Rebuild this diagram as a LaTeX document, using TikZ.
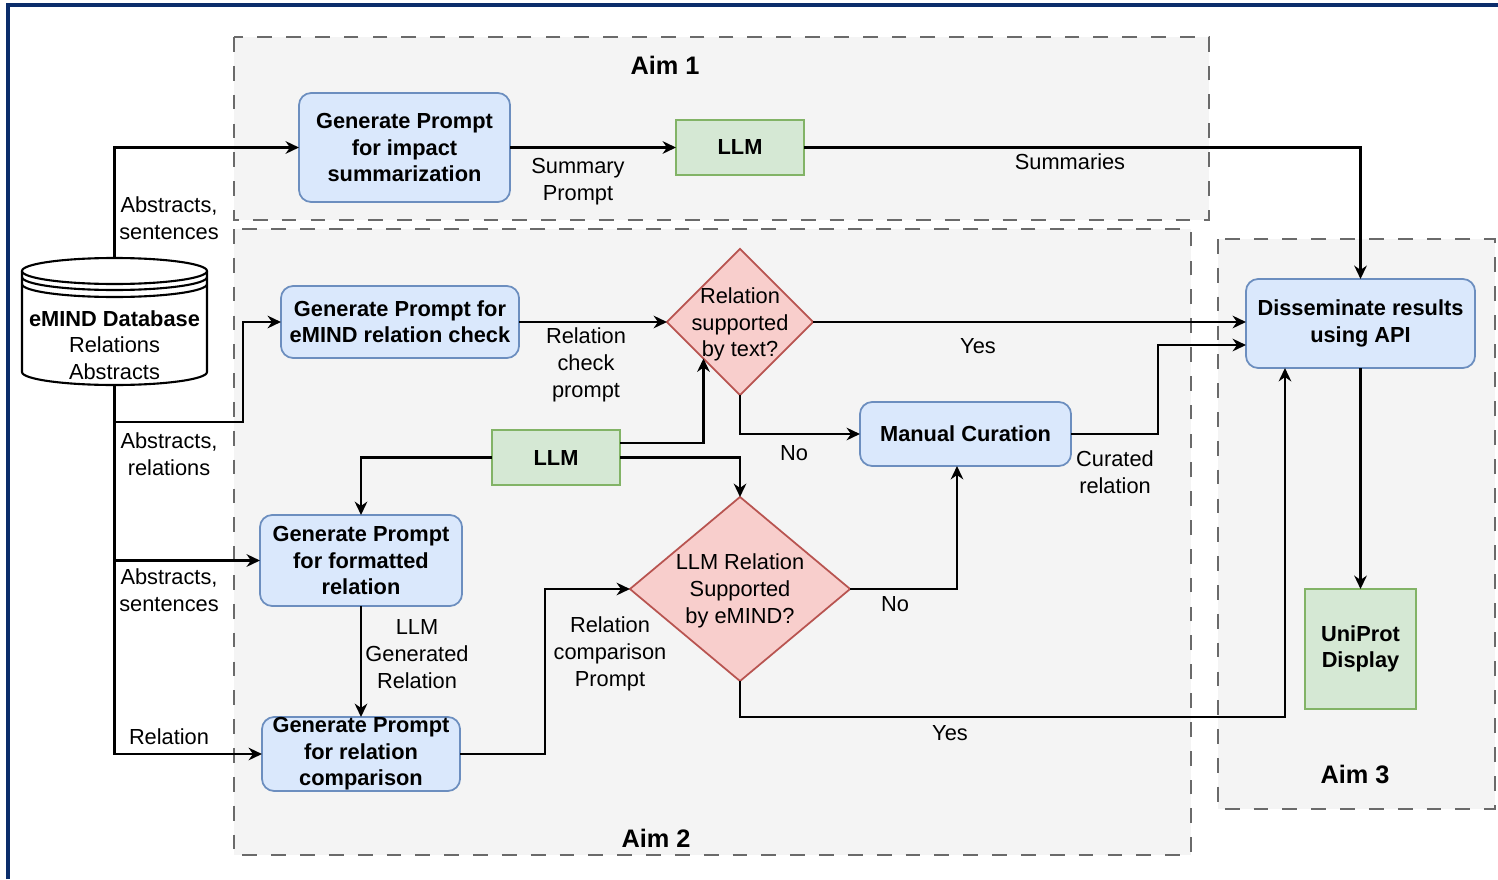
\documentclass[tikz,border=0pt]{standalone}
\usepackage{fontspec}
\setmainfont{Liberation Sans}
\usepackage{tikz}
\usetikzlibrary{positioning}
\usetikzlibrary{shapes.geometric}
\usetikzlibrary{arrows.meta}

\definecolor{promptfill}{HTML}{DAE8FC}
\definecolor{promptline}{HTML}{6C8EBF}
\definecolor{llmfill}{HTML}{D5E8D4}
\definecolor{llmline}{HTML}{82B366}
\definecolor{checkfill}{HTML}{F8CECC}
\definecolor{checkline}{HTML}{B85450}
\definecolor{aimfill}{HTML}{F4F4F4}
\definecolor{aimline}{HTML}{6A6A6A}
\definecolor{framecol}{HTML}{0B2D6B}

\begin{document}
\begin{tikzpicture}[x=0.01cm,y=-0.01cm,
	every node/.style={font=\fontsize{6.2}{7.6}\selectfont, inner sep=0pt, outer sep=0pt},
	prompt/.style={draw=promptline, fill=promptfill, rounded corners=3.5pt, line width=0.5pt, align=center, font=\fontsize{6.2}{7.5}\selectfont\bfseries},
	model/.style={draw=llmline, fill=llmfill, line width=0.5pt, align=center, font=\fontsize{6.2}{7.5}\selectfont\bfseries},
	check/.style={diamond, draw=checkline, fill=checkfill, line width=0.5pt},
	aimbox/.style={draw=aimline, fill=aimfill, line width=0.5pt, dash pattern=on 4.2pt off 4pt},
	aimtitle/.style={font=\fontsize{7.2}{8.6}\selectfont\bfseries},
	arr/.style={-{Stealth[length=3.8pt,width=3.6pt]}, line width=0.6pt},
	lbl/.style={align=center}]

	\useasboundingbox (0,0) rectangle (1498,879);
	% Frame %
	\draw [framecol, line width=1.1pt] (8,879) -- (8,5) -- (1498,5);
	% Aims %
	\draw [aimbox] (234,37) rectangle (1209,220);
	\draw [aimbox] (234,229) rectangle (1191,855);
	\draw [aimbox] (1218,239) rectangle (1495,809);
	\node [aimtitle] (aim1) at (665,65) {Aim 1};
	\node [aimtitle] (aim2) at (656,838) {Aim 2};
	\node [aimtitle] (aim3) at (1355,774) {Aim 3};
	% Database %
	\draw [fill=white, line width=0.6pt] (22,271) -- (22,372) arc (180:0:92.5 and 13) -- (207,271);
	\draw [fill=white, line width=0.6pt] (114.5,271) ellipse (92.5 and 13);
	\draw [line width=0.6pt] (22,277) arc (180:0:92.5 and 13);
	\draw [line width=0.6pt] (22,284) arc (180:0:92.5 and 13);
	\node [lbl] (db) at (114.5,345) {\textbf{eMIND Database}\\Relations\\Abstracts};
	\coordinate (dbtop) at (114.5,258);
	\coordinate (dbbot) at (114.5,385);
	% Aim 1 %
	\node [prompt, minimum width=2.11cm, minimum height=1.09cm] (gen1) at (404.5,147.5) {Generate Prompt\\for impact\\summarization};
	\node [model, minimum width=1.28cm, minimum height=0.55cm] (llm1) at (740,147.5) {LLM};
	% Aim 2 %
	\node [prompt, minimum width=2.38cm, minimum height=0.72cm] (gen2) at (400,322) {Generate Prompt for\\eMIND relation check};
	\node [check, minimum width=1.46cm, minimum height=1.46cm, label={[lbl, yshift=-0.025cm]center:Relation\\supported\\by text?}] (dia1) at (740,322) {};
	\node [prompt, minimum width=2.11cm, minimum height=0.64cm] (manual) at (965.5,434) {Manual Curation};
	\node [model, minimum width=1.28cm, minimum height=0.55cm] (llm2) at (556,457.5) {LLM};
	\node [prompt, minimum width=2.02cm, minimum height=0.91cm] (genF) at (361,560.5) {Generate Prompt\\for formatted\\relation};
	\node [prompt, minimum width=1.98cm, minimum height=0.74cm] (genC) at (361,754) {Generate Prompt\\for relation\\comparison};
	\node [check, minimum width=2.2cm, minimum height=1.84cm, label={[lbl, yshift=-0.02cm]center:LLM Relation\\Supported\\by eMIND?}] (dia2) at (740,589) {};
	% Aim 3 %
	\node [prompt, minimum width=2.29cm, minimum height=0.89cm] (dissem) at (1360.5,323.5) {Disseminate results\\using API};
	\node [model, minimum width=1.11cm, minimum height=1.2cm] (uniprot) at (1360.5,649) {UniProt\\Display};
	% Connectors %
	\draw [arr] (dbtop) |- (gen1.west);
	\draw [arr] (dbbot) -- (114.5,422) -- (243,422) |- (gen2.west);
	\draw [arr] (dbbot) |- (genF.west);
	\draw [arr] (dbbot) |- (genC.west);
	\draw [arr] (gen1) -- (llm1);
	\draw [arr] (llm1.east) -| (dissem.north);
	\draw [arr] (gen2.east) -- (dia1.west);
	\draw [arr] (dia1.east) -- (dia1.east -| dissem.west);
	\draw [arr] (dia1.south) |- (manual.west);
	\draw [arr] (manual.east) -- ++(87,0) |- ([yshift=-0.215cm]dissem.west);
	\draw [arr] ([yshift=0.145cm]llm2.east) -| (dia1.south west);
	\draw [arr] (llm2.east) -| (dia2.north);
	\draw [arr] (llm2.west) -| (genF.north);
	\draw [arr] (genF.south) -- (genC.north);
	\draw [arr] (genC.east) -- ++(85,0) |- (dia2.west);
	\draw [arr] (dia2.east) -| ([xshift=-0.085cm]manual.south);
	\draw [arr] (dia2.south) -- ++(0,36) -| ([xshift=-0.755cm]dissem.south);
	\draw [arr] (dissem.south) -- (uniprot.north);
	% Labels %
	\node [lbl] (lab1) at (169,218) {Abstracts,\\sentences};
	\node [lbl] (lab2) at (169,454) {Abstracts,\\relations};
	\node [lbl] (lab3) at (169,590) {Abstracts,\\sentences};
	\node [lbl] (lab4) at (169,737) {Relation};
	\node [lbl] (sumprompt) at (578,182) {Summary\\Prompt};
	\node [lbl] (summaries) at (1070,162) {Summaries};
	\node [lbl] (checkprompt) at (586,365) {Relation\\check\\prompt};
	\node [lbl] (yes1) at (978,346) {Yes};
	\node [lbl] (no1) at (794,453) {No};
	\node [lbl] (curated) at (1115,472) {Curated\\relation};
	\node [lbl] (llmrel) at (417,654) {LLM\\Generated\\Relation};
	\node [lbl] (compprompt) at (610,654) {Relation\\comparison\\Prompt};
	\node [lbl] (no2) at (895,604) {No};
	\node [lbl] (yes2) at (950,733) {Yes};
\end{tikzpicture}
\end{document}
